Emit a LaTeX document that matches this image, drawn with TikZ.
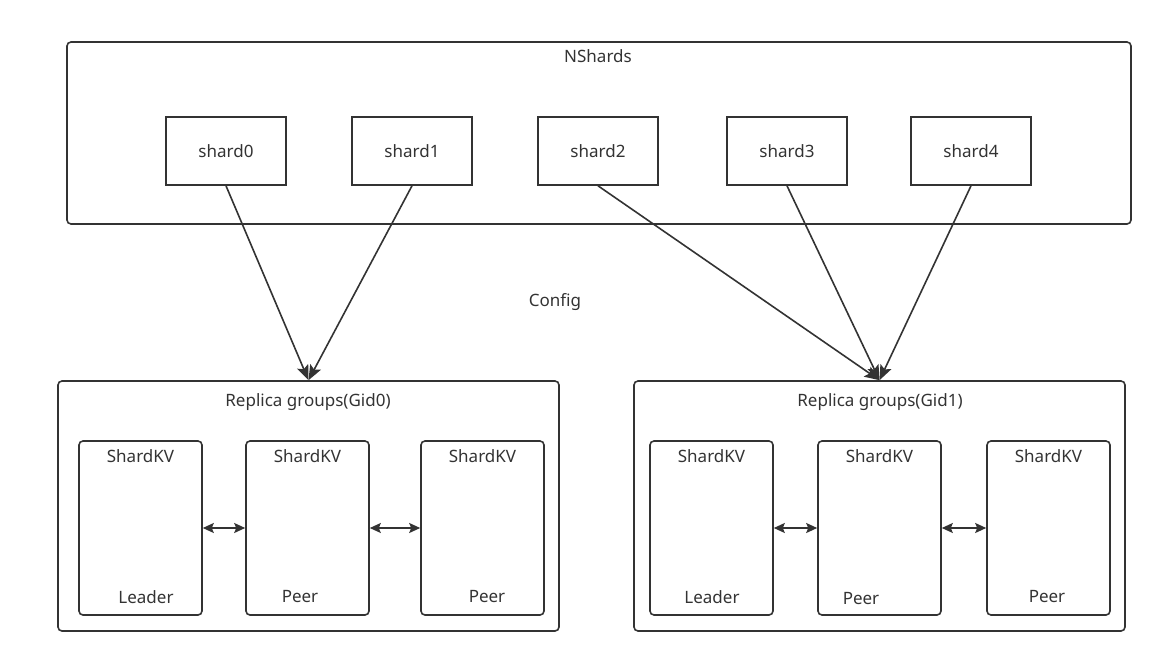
\documentclass[tikz,border=0pt]{standalone}
\usepackage{fontspec}
\setmainfont{Noto Sans}
\usepackage{tikz}
\usetikzlibrary{shapes.geometric, arrows.meta, calc, positioning}
\definecolor{ink}{HTML}{333333}
\tikzstyle{group} = [rectangle, rounded corners=4pt, line width=1.6pt, draw=ink, inner sep=0pt]
\tikzstyle{shard} = [rectangle, line width=1.6pt, minimum width=120pt, minimum height=68pt, text centered, draw=ink, inner sep=0pt]
\tikzstyle{kv} = [rectangle, rounded corners=4pt, line width=1.6pt, minimum width=123pt, minimum height=174pt, draw=ink, inner sep=0pt]
\tikzstyle{txt} = [text=ink, inner sep=0pt]
\tikzstyle{arrow} = [line width=1.6pt, draw=ink, -{Stealth[length=15pt, width=12pt, inset=3pt]}]
\tikzstyle{link} = [line width=1.6pt, draw=ink, {Stealth[length=11pt, width=10pt, inset=2pt]}-{Stealth[length=11pt, width=10pt, inset=2pt]}]

\begin{document}
\begin{tikzpicture}[x=1pt, y=-1pt, node distance = 64.4pt, font=\fontsize{17}{20}\selectfont, text=ink]
	\useasboundingbox (0,0) rectangle (1149,672);
	% NShards
	\node (NShards) [group, minimum width=1064pt, minimum height=182pt] at (599,133) {};
	\node (NShardsLabel) [txt] at (598,56) {NShards};
	\node (Shard0) [shard] at (226,151) {shard0};
	\node (Shard1) [shard, right = of Shard0] {shard1};
	\node (Shard2) [shard, right = of Shard1] {shard2};
	\node (Shard3) [shard, right = 67.4pt of Shard2] {shard3};
	\node (Shard4) [shard, right = 62.4pt of Shard3] {shard4};
	\node (Config) [txt] at (555,302) {Config};
	% Replica groups
	\node (Gid0) [group, minimum width=501pt, minimum height=250pt] at (308.5,506) {};
	\node (Gid0Label) [txt] at (308,402) {Replica groups(Gid0)};
	\node (Gid1) [group, minimum width=491pt, minimum height=250pt] at (879.5,506) {};
	\node (Gid1Label) [txt] at (880,402) {Replica groups(Gid1)};
	% ShardKV servers
	\node (KV00) [kv] at (140.5,528) {};
	\node (KV01) [kv] at (307.5,528) {};
	\node (KV02) [kv] at (482.5,528) {};
	\node (KV10) [kv] at (711.5,528) {};
	\node (KV11) [kv] at (879.5,528) {};
	\node (KV12) [kv] at (1048.5,528) {};
	\foreach \kv in {KV00, KV01, KV02, KV10, KV11, KV12}
		\node [txt] at ($(\kv.north)+(0,16)$) {ShardKV};
	\node (Role00) [txt] at (146,597) {Leader};
	\node (Role01) [txt] at (300,597) {Peer};
	\node (Role02) [txt] at (487,597) {Peer};
	\node (Role10) [txt] at (712,597) {Leader};
	\node (Role11) [txt] at (861,599) {Peer};
	\node (Role12) [txt] at (1047,597) {Peer};
	% connectors
	\draw [arrow] (Shard0.south) -- (Gid0.north);
	\draw [arrow] (Shard1.south) -- (Gid0.north);
	\draw [arrow] (Shard2.south) -- (Gid1.north);
	\draw [arrow] (Shard3.south) -- (Gid1.north);
	\draw [arrow] (Shard4.south) -- (Gid1.north);
	\draw [link] (KV00) -- (KV01);
	\draw [link] (KV01) -- (KV02);
	\draw [link] (KV10) -- (KV11);
	\draw [link] (KV11) -- (KV12);
\end{tikzpicture}
\end{document}
